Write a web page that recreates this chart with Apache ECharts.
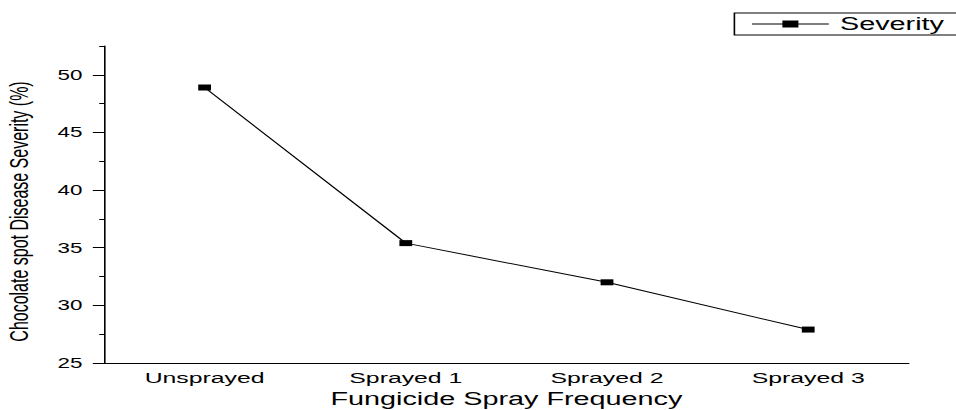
<!DOCTYPE html>
<html>
<head>
<meta charset="utf-8">
<script src="https://cdn.jsdelivr.net/npm/echarts@6/dist/echarts.min.js"></script>
<style>
  html, body { margin: 0; padding: 0; background: #fff; overflow: hidden; }
  /* the reference is stretched horizontally, so draw narrow and stretch */
  #chart { width: 597.5px; height: 410px; transform: scaleX(1.6); transform-origin: 0 0; }
</style>
</head>
<body>
<div id="chart"></div>
<script>
// data
const categories = ['Unsprayed', 'Sprayed 1', 'Sprayed 2', 'Sprayed 3'];
const severity = [48.9, 35.4, 32.0, 27.9];
const yTicks = [25, 30, 35, 40, 45, 50];
const yMinorTicks = [27.5, 32.5, 37.5, 42.5, 47.5, 52.5];

const font = 'Liberation Sans, Arial, sans-serif';

const chart = echarts.init(document.getElementById('chart'), null, { renderer: 'svg' });
chart.setOption({
    animation: false,
    grid: { left: 65, right: 30, top: 46, bottom: 47, outerBoundsMode: 'none' },
    legend: {
        data: [{ name: 'Severity', icon: 'path://M0,3L48,3L48,4L0,4ZM19,0L29,0L29,7L19,7Z' }],
        left: 459,
        top: 13,
        itemWidth: 48,
        itemHeight: 7,
        padding: [2, 30, 2, 11],
        borderColor: '#000',
        borderWidth: 1,
        borderRadius: 0,
        textStyle: { fontFamily: font, fontSize: 18, color: '#000', padding: [0, 0, 0, 2] }
    },
    xAxis: [
        {
            type: 'category',
            data: categories,
            boundaryGap: true,
            name: 'Fungicide Spray Frequency',
            nameLocation: 'middle',
            nameGap: 26,
            nameTextStyle: { fontFamily: font, fontSize: 18, color: '#000' },
            axisLine: { lineStyle: { color: '#000', width: 1 } },
            axisTick: { alignWithLabel: true, length: 4, lineStyle: { color: '#000' } },
            axisLabel: { fontFamily: font, fontSize: 15.5, color: '#000', margin: 6 },
            splitLine: { show: false }
        },
        {
            type: 'category',
            data: categories,
            boundaryGap: true,
            position: 'bottom',
            axisLine: { show: false },
            axisTick: { length: 2, lineStyle: { color: '#000' } },
            axisLabel: { show: false },
            splitLine: { show: false }
        }
    ],
    yAxis: [
        {
            type: 'value',
            min: 25,
            max: 52.5,
            interval: 5,
            name: 'Chocolate spot Disease Severity (%)',
            nameLocation: 'middle',
            nameGap: 45,
            nameTextStyle: { fontFamily: font, fontSize: 16, color: '#000', padding: [0, 14, 0, 0] },
            axisLine: { show: true, lineStyle: { color: '#000', width: 1 } },
            axisTick: { show: true, length: 7, customValues: yTicks, lineStyle: { color: '#000' } },
            axisLabel: { fontFamily: font, fontSize: 14, color: '#000', margin: 13.5, customValues: yTicks },
            splitLine: { show: false }
        },
        {
            type: 'value',
            min: 25,
            max: 52.5,
            interval: 2.5,
            position: 'left',
            axisLine: { show: false },
            axisTick: { show: true, length: 3, customValues: yMinorTicks, lineStyle: { color: '#000' } },
            axisLabel: { show: false },
            splitLine: { show: false }
        }
    ],
    series: [
        {
            name: 'Severity',
            type: 'line',
            data: severity,
            symbol: 'rect',
            symbolSize: [8, 6],
            itemStyle: { color: '#000' },
            lineStyle: { color: '#000', width: 1 }
        }
    ]
});
</script>
</body>
</html>
